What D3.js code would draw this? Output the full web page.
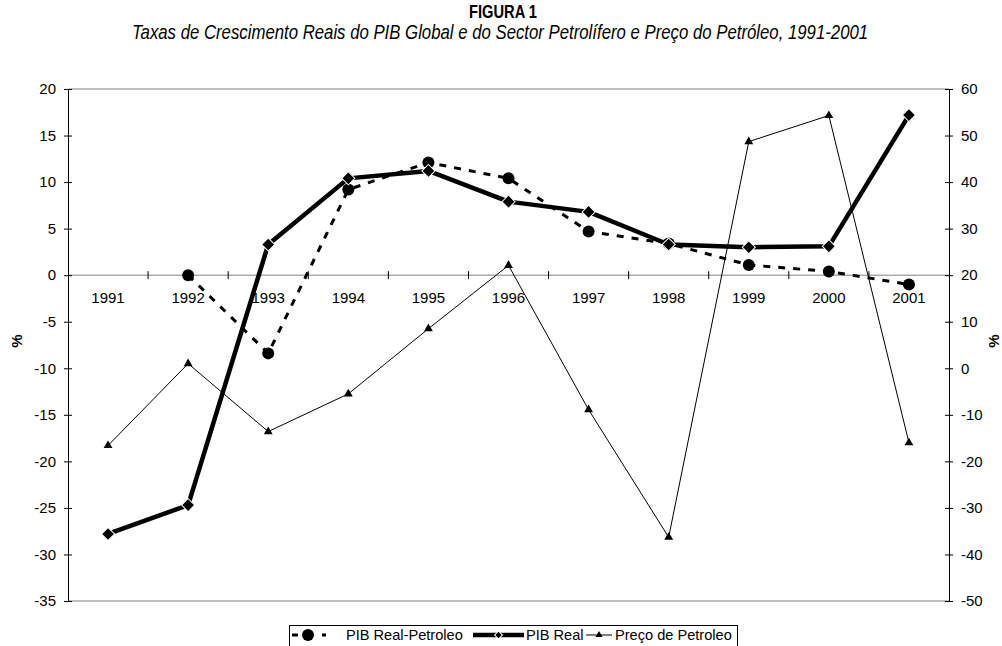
<!DOCTYPE html>
<html>
<head>
<meta charset="utf-8">
<script src="https://cdn.jsdelivr.net/npm/d3@7"></script>
<style>
  body { margin: 0; background: #fff; }
  svg { display: block; font-family: "Liberation Sans", Arial, sans-serif; }
</style>
</head>
<body>
<div id="chart"></div>
<script>
const years = ["1991", "1992", "1993", "1994", "1995", "1996", "1997", "1998", "1999", "2000", "2001"];
// left axis (%)
const pibPetroleo = [null, 0, -8.4, 9.2, 12.1, 10.4, 4.7, 3.4, 1.1, 0.4, -1.0];
const pibReal = [-27.8, -24.7, 3.3, 10.4, 11.2, 7.9, 6.8, 3.3, 3.0, 3.1, 17.2];
// right axis (%)
const precoPetroleo = [-16.6, 1.0, -13.6, -5.5, 8.5, 22.1, -8.9, -36.3, 48.7, 54.3, -16.0];
const leftTicks = [-35, -30, -25, -20, -15, -10, -5, 0, 5, 10, 15, 20];
const rightTicks = [-50, -40, -30, -20, -10, 0, 10, 20, 30, 40, 50, 60];
const seriesNames = ["PIB Real-Petroleo", "PIB Real", "Preço de Petroleo"];

const width = 1002, height = 646;
const plotLeft = 68, plotRight = 949, plotTop = 89, plotBottom = 601;

const svg = d3.select("#chart").append("svg")
    .attr("width", width)
    .attr("height", height);

const x = d3.scaleBand().domain(years).range([plotLeft, plotRight]);
const cx = d => x(d) + x.bandwidth() / 2;
const yL = d3.scaleLinear().domain([-35, 20]).range([plotBottom, plotTop]);
const yR = d3.scaleLinear().domain([-50, 60]).range([plotBottom, plotTop]);

// titles - the original uses a narrow font, so squeeze a normal one horizontally
const narrow = 0.82;
const fitText = function(sel, w) {
  let len = sel.node().getComputedTextLength();
  let fs = parseFloat(sel.attr("font-size"));
  sel.attr("font-size", fs * w / len);
};
const ttl = svg.append("text")
    .attr("transform", "translate(503,18) scale(" + narrow + ",1)")
    .attr("text-anchor", "middle")
    .attr("font-weight", "bold")
    .attr("font-size", 17.5)
    .text("FIGURA 1");
fitText(ttl, 68 / narrow);
const sub = svg.append("text")
    .attr("transform", "translate(500,39) scale(" + narrow + ",1)")
    .attr("text-anchor", "middle")
    .attr("font-style", "italic")
    .attr("font-size", 18)
    .text("Taxas de Crescimento Reais do PIB Global e do Sector Petrolífero e Preço do Petróleo, 1991-2001");
fitText(sub, 736 / narrow);

// plot frame (top and bottom are grey)
svg.append("line").attr("x1", plotLeft).attr("x2", plotRight).attr("y1", plotTop).attr("y2", plotTop)
    .attr("stroke", "#808080");
svg.append("line").attr("x1", plotLeft).attr("x2", plotRight).attr("y1", plotBottom).attr("y2", plotBottom)
    .attr("stroke", "#808080");

// category axis at zero
const zeroY = yL(0);
svg.append("line").attr("x1", plotLeft).attr("x2", plotRight).attr("y1", zeroY).attr("y2", zeroY)
    .attr("stroke", "#808080");
svg.append("g").selectAll("line")
    .data(years.slice(1))
    .enter().append("line")
    .attr("x1", d => x(d)).attr("x2", d => x(d))
    .attr("y1", zeroY - 4).attr("y2", zeroY + 4)
    .attr("stroke", "#000");
svg.append("g").selectAll("text")
    .data(years)
    .enter().append("text")
    .attr("x", d => cx(d))
    .attr("y", zeroY + 28)
    .attr("text-anchor", "middle")
    .attr("font-size", 15)
    .text(d => d);

// left axis
const gL = svg.append("g")
    .attr("transform", "translate(" + plotLeft + ",0)")
    .call(d3.axisLeft(yL).tickValues(leftTicks).tickFormat(d => String(d)).tickSize(4).tickPadding(8));
gL.select(".domain").attr("stroke", "#000");
gL.selectAll(".tick line").attr("x1", 4).attr("x2", -4).attr("stroke", "#000");
gL.selectAll(".tick text").attr("font-size", 15).attr("font-family", null).attr("fill", "#000");

// right axis
const gR = svg.append("g")
    .attr("transform", "translate(" + plotRight + ",0)")
    .call(d3.axisRight(yR).tickValues(rightTicks).tickFormat(d => String(d)).tickSize(4).tickPadding(8));
gR.select(".domain").attr("stroke", "#000");
gR.selectAll(".tick line").attr("x1", -4).attr("x2", 4).attr("stroke", "#000");
gR.selectAll(".tick text").attr("font-size", 15).attr("font-family", null).attr("fill", "#000");

// axis titles
svg.append("text")
    .attr("transform", "translate(22,341) rotate(-90)")
    .attr("text-anchor", "middle")
    .attr("font-weight", "bold").attr("font-size", 15)
    .text("%");
svg.append("text")
    .attr("transform", "translate(999,341) rotate(-90)")
    .attr("text-anchor", "middle")
    .attr("font-weight", "bold").attr("font-size", 15)
    .text("%");

// series
const pts = (vals, y) => years.map((d, i) => ({ year: d, v: vals[i], y: y }))
    .filter(p => p.v !== null);

const line = d3.line().x(p => cx(p.year)).y(p => p.y(p.v));

const diamond = d3.symbol().type(d3.symbolSquare).size(85);
const triangle = d3.symbol().type(d3.symbolTriangle).size(34);

function drawPetro(g, data) {
  g.append("path").datum(data)
      .attr("d", line)
      .attr("fill", "none").attr("stroke", "#000")
      .attr("stroke-width", 3).attr("stroke-dasharray", "7,8");
  g.selectAll("circle").data(data).enter().append("circle")
      .attr("cx", p => cx(p.year)).attr("cy", p => p.y(p.v))
      .attr("r", 6).attr("fill", "#000");
}
function drawReal(g, data) {
  g.append("path").datum(data)
      .attr("d", line)
      .attr("fill", "none").attr("stroke", "#000")
      .attr("stroke-width", 4.5).attr("stroke-linejoin", "round");
  g.selectAll(".m").data(data).enter().append("path")
      .attr("class", "m")
      .attr("d", diamond)
      .attr("transform", p => "translate(" + cx(p.year) + "," + p.y(p.v) + ") rotate(45)")
      .attr("fill", "#000").attr("stroke", "#fff").attr("stroke-width", 1);
}
function drawPreco(g, data) {
  g.append("path").datum(data)
      .attr("d", line)
      .attr("fill", "none").attr("stroke", "#000").attr("stroke-width", 1);
  g.selectAll(".m").data(data).enter().append("path")
      .attr("class", "m")
      .attr("d", triangle)
      .attr("transform", p => "translate(" + cx(p.year) + "," + p.y(p.v) + ")")
      .attr("fill", "#000");
}

drawPetro(svg.append("g"), pts(pibPetroleo, yL));
drawReal(svg.append("g"), pts(pibReal, yL));
drawPreco(svg.append("g"), pts(precoPetroleo, yR));

// legend
const lg = svg.append("g");
lg.append("rect")
    .attr("x", 289.5).attr("y", 625.5)
    .attr("width", 448).attr("height", 40)
    .attr("fill", "#fff").attr("stroke", "#000");
const ly = 635;
const keys = [
  { x1: 292, x2: 326, tx: 346 },
  { x1: 473, x2: 524, tx: 526 },
  { x1: 586, x2: 612, tx: 615 }
];
// PIB Real-Petroleo key
lg.append("line").attr("x1", keys[0].x1).attr("x2", keys[0].x2).attr("y1", ly).attr("y2", ly)
    .attr("stroke", "#000").attr("stroke-width", 3).attr("stroke-dasharray", "6,9");
lg.append("circle").attr("cx", 308).attr("cy", ly).attr("r", 6);
// PIB Real key
lg.append("line").attr("x1", keys[1].x1).attr("x2", keys[1].x2).attr("y1", ly).attr("y2", ly)
    .attr("stroke", "#000").attr("stroke-width", 4.5);
lg.append("path").attr("d", d3.symbol().type(d3.symbolSquare).size(30))
    .attr("transform", "translate(" + (keys[1].x1 + keys[1].x2) / 2 + "," + ly + ") rotate(45)")
    .attr("fill", "#000").attr("stroke", "#fff");
// Preco key
lg.append("line").attr("x1", keys[2].x1).attr("x2", keys[2].x2).attr("y1", ly).attr("y2", ly)
    .attr("stroke", "#000").attr("stroke-width", 1);
lg.append("path").attr("d", d3.symbol().type(d3.symbolTriangle).size(22))
    .attr("transform", "translate(" + (keys[2].x1 + keys[2].x2) / 2 + "," + ly + ")");
lg.selectAll(".lt").data(seriesNames).enter().append("text")
    .attr("class", "lt")
    .attr("x", (d, i) => keys[i].tx)
    .attr("y", ly + 5)
    .attr("font-size", 14.6)
    .text(d => d);
</script>
</body>
</html>
